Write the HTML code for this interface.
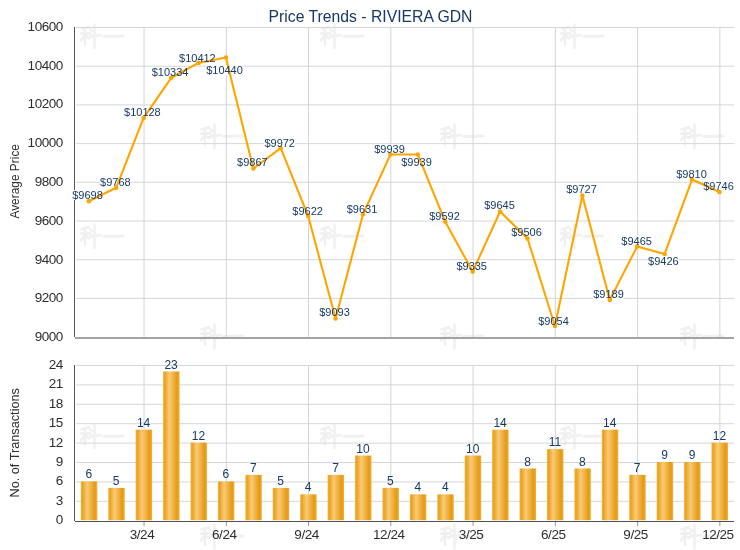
<!DOCTYPE html><html><head><meta charset="utf-8"><style>html,body{margin:0;padding:0;background:#fff;overflow:hidden;}svg{display:block;will-change:transform;}text{font-family:"Liberation Sans",sans-serif;}</style></head><body>
<svg width="740" height="550" viewBox="0 0 740 550">
<defs><linearGradient id="bg" x1="0" y1="0" x2="1" y2="0"><stop offset="0" stop-color="#F4BA48"/><stop offset="0.1" stop-color="#EAA11C"/><stop offset="0.38" stop-color="#FACA78"/><stop offset="0.86" stop-color="#E59A0E"/><stop offset="1" stop-color="#F2B040"/></linearGradient></defs>
<g transform="translate(0,23.5)" fill="none" stroke="#F0F0F0" stroke-width="2.4" stroke-linecap="round"><path d="M81.5 6 L89 3.5 M80.5 10 L89.5 9.5 M85 5 L85 21 M85 11 L81 17 M85 11 L89 15 M90 5.5 L92 7.5 M89.5 9.5 L91.5 11.5 M88.5 13.5 L101 11.5 M94.5 1 L94.5 25"/><path d="M104 13 L123 12.5" stroke-width="3.2"/></g>
<g transform="translate(240,23.5)" fill="none" stroke="#F0F0F0" stroke-width="2.4" stroke-linecap="round"><path d="M81.5 6 L89 3.5 M80.5 10 L89.5 9.5 M85 5 L85 21 M85 11 L81 17 M85 11 L89 15 M90 5.5 L92 7.5 M89.5 9.5 L91.5 11.5 M88.5 13.5 L101 11.5 M94.5 1 L94.5 25"/><path d="M104 13 L123 12.5" stroke-width="3.2"/></g>
<g transform="translate(480,23.5)" fill="none" stroke="#F0F0F0" stroke-width="2.4" stroke-linecap="round"><path d="M81.5 6 L89 3.5 M80.5 10 L89.5 9.5 M85 5 L85 21 M85 11 L81 17 M85 11 L89 15 M90 5.5 L92 7.5 M89.5 9.5 L91.5 11.5 M88.5 13.5 L101 11.5 M94.5 1 L94.5 25"/><path d="M104 13 L123 12.5" stroke-width="3.2"/></g>
<g transform="translate(120,123.5)" fill="none" stroke="#F0F0F0" stroke-width="2.4" stroke-linecap="round"><path d="M81.5 6 L89 3.5 M80.5 10 L89.5 9.5 M85 5 L85 21 M85 11 L81 17 M85 11 L89 15 M90 5.5 L92 7.5 M89.5 9.5 L91.5 11.5 M88.5 13.5 L101 11.5 M94.5 1 L94.5 25"/><path d="M104 13 L123 12.5" stroke-width="3.2"/></g>
<g transform="translate(360,123.5)" fill="none" stroke="#F0F0F0" stroke-width="2.4" stroke-linecap="round"><path d="M81.5 6 L89 3.5 M80.5 10 L89.5 9.5 M85 5 L85 21 M85 11 L81 17 M85 11 L89 15 M90 5.5 L92 7.5 M89.5 9.5 L91.5 11.5 M88.5 13.5 L101 11.5 M94.5 1 L94.5 25"/><path d="M104 13 L123 12.5" stroke-width="3.2"/></g>
<g transform="translate(600,123.5)" fill="none" stroke="#F0F0F0" stroke-width="2.4" stroke-linecap="round"><path d="M81.5 6 L89 3.5 M80.5 10 L89.5 9.5 M85 5 L85 21 M85 11 L81 17 M85 11 L89 15 M90 5.5 L92 7.5 M89.5 9.5 L91.5 11.5 M88.5 13.5 L101 11.5 M94.5 1 L94.5 25"/><path d="M104 13 L123 12.5" stroke-width="3.2"/></g>
<g transform="translate(0,223.5)" fill="none" stroke="#F0F0F0" stroke-width="2.4" stroke-linecap="round"><path d="M81.5 6 L89 3.5 M80.5 10 L89.5 9.5 M85 5 L85 21 M85 11 L81 17 M85 11 L89 15 M90 5.5 L92 7.5 M89.5 9.5 L91.5 11.5 M88.5 13.5 L101 11.5 M94.5 1 L94.5 25"/><path d="M104 13 L123 12.5" stroke-width="3.2"/></g>
<g transform="translate(240,223.5)" fill="none" stroke="#F0F0F0" stroke-width="2.4" stroke-linecap="round"><path d="M81.5 6 L89 3.5 M80.5 10 L89.5 9.5 M85 5 L85 21 M85 11 L81 17 M85 11 L89 15 M90 5.5 L92 7.5 M89.5 9.5 L91.5 11.5 M88.5 13.5 L101 11.5 M94.5 1 L94.5 25"/><path d="M104 13 L123 12.5" stroke-width="3.2"/></g>
<g transform="translate(480,223.5)" fill="none" stroke="#F0F0F0" stroke-width="2.4" stroke-linecap="round"><path d="M81.5 6 L89 3.5 M80.5 10 L89.5 9.5 M85 5 L85 21 M85 11 L81 17 M85 11 L89 15 M90 5.5 L92 7.5 M89.5 9.5 L91.5 11.5 M88.5 13.5 L101 11.5 M94.5 1 L94.5 25"/><path d="M104 13 L123 12.5" stroke-width="3.2"/></g>
<g transform="translate(120,323.5)" fill="none" stroke="#F0F0F0" stroke-width="2.4" stroke-linecap="round"><path d="M81.5 6 L89 3.5 M80.5 10 L89.5 9.5 M85 5 L85 21 M85 11 L81 17 M85 11 L89 15 M90 5.5 L92 7.5 M89.5 9.5 L91.5 11.5 M88.5 13.5 L101 11.5 M94.5 1 L94.5 25"/><path d="M104 13 L123 12.5" stroke-width="3.2"/></g>
<g transform="translate(360,323.5)" fill="none" stroke="#F0F0F0" stroke-width="2.4" stroke-linecap="round"><path d="M81.5 6 L89 3.5 M80.5 10 L89.5 9.5 M85 5 L85 21 M85 11 L81 17 M85 11 L89 15 M90 5.5 L92 7.5 M89.5 9.5 L91.5 11.5 M88.5 13.5 L101 11.5 M94.5 1 L94.5 25"/><path d="M104 13 L123 12.5" stroke-width="3.2"/></g>
<g transform="translate(600,323.5)" fill="none" stroke="#F0F0F0" stroke-width="2.4" stroke-linecap="round"><path d="M81.5 6 L89 3.5 M80.5 10 L89.5 9.5 M85 5 L85 21 M85 11 L81 17 M85 11 L89 15 M90 5.5 L92 7.5 M89.5 9.5 L91.5 11.5 M88.5 13.5 L101 11.5 M94.5 1 L94.5 25"/><path d="M104 13 L123 12.5" stroke-width="3.2"/></g>
<g transform="translate(0,423.5)" fill="none" stroke="#F0F0F0" stroke-width="2.4" stroke-linecap="round"><path d="M81.5 6 L89 3.5 M80.5 10 L89.5 9.5 M85 5 L85 21 M85 11 L81 17 M85 11 L89 15 M90 5.5 L92 7.5 M89.5 9.5 L91.5 11.5 M88.5 13.5 L101 11.5 M94.5 1 L94.5 25"/><path d="M104 13 L123 12.5" stroke-width="3.2"/></g>
<g transform="translate(240,423.5)" fill="none" stroke="#F0F0F0" stroke-width="2.4" stroke-linecap="round"><path d="M81.5 6 L89 3.5 M80.5 10 L89.5 9.5 M85 5 L85 21 M85 11 L81 17 M85 11 L89 15 M90 5.5 L92 7.5 M89.5 9.5 L91.5 11.5 M88.5 13.5 L101 11.5 M94.5 1 L94.5 25"/><path d="M104 13 L123 12.5" stroke-width="3.2"/></g>
<g transform="translate(480,423.5)" fill="none" stroke="#F0F0F0" stroke-width="2.4" stroke-linecap="round"><path d="M81.5 6 L89 3.5 M80.5 10 L89.5 9.5 M85 5 L85 21 M85 11 L81 17 M85 11 L89 15 M90 5.5 L92 7.5 M89.5 9.5 L91.5 11.5 M88.5 13.5 L101 11.5 M94.5 1 L94.5 25"/><path d="M104 13 L123 12.5" stroke-width="3.2"/></g>
<g transform="translate(120,523.5)" fill="none" stroke="#F0F0F0" stroke-width="2.4" stroke-linecap="round"><path d="M81.5 6 L89 3.5 M80.5 10 L89.5 9.5 M85 5 L85 21 M85 11 L81 17 M85 11 L89 15 M90 5.5 L92 7.5 M89.5 9.5 L91.5 11.5 M88.5 13.5 L101 11.5 M94.5 1 L94.5 25"/><path d="M104 13 L123 12.5" stroke-width="3.2"/></g>
<g transform="translate(360,523.5)" fill="none" stroke="#F0F0F0" stroke-width="2.4" stroke-linecap="round"><path d="M81.5 6 L89 3.5 M80.5 10 L89.5 9.5 M85 5 L85 21 M85 11 L81 17 M85 11 L89 15 M90 5.5 L92 7.5 M89.5 9.5 L91.5 11.5 M88.5 13.5 L101 11.5 M94.5 1 L94.5 25"/><path d="M104 13 L123 12.5" stroke-width="3.2"/></g>
<g transform="translate(600,523.5)" fill="none" stroke="#F0F0F0" stroke-width="2.4" stroke-linecap="round"><path d="M81.5 6 L89 3.5 M80.5 10 L89.5 9.5 M85 5 L85 21 M85 11 L81 17 M85 11 L89 15 M90 5.5 L92 7.5 M89.5 9.5 L91.5 11.5 M88.5 13.5 L101 11.5 M94.5 1 L94.5 25"/><path d="M104 13 L123 12.5" stroke-width="3.2"/></g>
<g fill="#D6D6D6">
<rect x="76" y="27.00" width="658" height="1"/>
<rect x="76" y="65.70" width="658" height="1"/>
<rect x="76" y="104.40" width="658" height="1"/>
<rect x="76" y="143.10" width="658" height="1"/>
<rect x="76" y="181.80" width="658" height="1"/>
<rect x="76" y="220.50" width="658" height="1"/>
<rect x="76" y="259.20" width="658" height="1"/>
<rect x="76" y="297.90" width="658" height="1"/>
<rect x="76" y="365.00" width="658" height="1"/>
<rect x="76" y="384.40" width="658" height="1"/>
<rect x="76" y="403.80" width="658" height="1"/>
<rect x="76" y="423.20" width="658" height="1"/>
<rect x="76" y="442.60" width="658" height="1"/>
<rect x="76" y="462.00" width="658" height="1"/>
<rect x="76" y="481.40" width="658" height="1"/>
<rect x="76" y="500.80" width="658" height="1"/>
</g>
<g fill="#D4D4D4">
<rect x="143.54" y="28" width="1" height="309"/>
<rect x="143.54" y="366" width="1" height="155"/>
<rect x="225.80" y="28" width="1" height="309"/>
<rect x="225.80" y="366" width="1" height="155"/>
<rect x="308.06" y="28" width="1" height="309"/>
<rect x="308.06" y="366" width="1" height="155"/>
<rect x="390.32" y="28" width="1" height="309"/>
<rect x="390.32" y="366" width="1" height="155"/>
<rect x="472.58" y="28" width="1" height="309"/>
<rect x="472.58" y="366" width="1" height="155"/>
<rect x="554.84" y="28" width="1" height="309"/>
<rect x="554.84" y="366" width="1" height="155"/>
<rect x="637.10" y="28" width="1" height="309"/>
<rect x="637.10" y="366" width="1" height="155"/>
<rect x="719.36" y="28" width="1" height="309"/>
<rect x="719.36" y="366" width="1" height="155"/>
</g>
<g shape-rendering="crispEdges">
<line x1="74.5" y1="27" x2="74.5" y2="337" stroke="#555555" stroke-width="1"/>
<rect x="75" y="337" width="659" height="2" fill="#A3A3A3"/>
<line x1="74.5" y1="365" x2="74.5" y2="521" stroke="#555555" stroke-width="1"/>
<rect x="143.54" y="522" width="1" height="4" fill="#999999" shape-rendering="auto"/>
<rect x="225.80" y="522" width="1" height="4" fill="#999999" shape-rendering="auto"/>
<rect x="308.06" y="522" width="1" height="4" fill="#999999" shape-rendering="auto"/>
<rect x="390.32" y="522" width="1" height="4" fill="#999999" shape-rendering="auto"/>
<rect x="472.58" y="522" width="1" height="4" fill="#999999" shape-rendering="auto"/>
<rect x="554.84" y="522" width="1" height="4" fill="#999999" shape-rendering="auto"/>
<rect x="637.10" y="522" width="1" height="4" fill="#999999" shape-rendering="auto"/>
<rect x="719.36" y="522" width="1" height="4" fill="#999999" shape-rendering="auto"/>
</g>
<g font-size="13.5" fill="#2E2E2E" text-anchor="end" letter-spacing="-0.45">
<text x="62.9" y="31.3">10600</text>
<text x="62.9" y="70.3">10400</text>
<text x="62.9" y="108.3">10200</text>
<text x="62.9" y="147.3">10000</text>
<text x="62.9" y="186.3">9800</text>
<text x="62.9" y="225.3">9600</text>
<text x="62.9" y="264.3">9400</text>
<text x="62.9" y="302.3">9200</text>
<text x="62.9" y="341.3">9000</text>
<text x="62.9" y="369.3">24</text>
<text x="62.9" y="388.3">21</text>
<text x="62.9" y="408.3">18</text>
<text x="62.9" y="427.3">15</text>
<text x="62.9" y="447.3">12</text>
<text x="62.9" y="466.3">9</text>
<text x="62.9" y="485.3">6</text>
<text x="62.9" y="505.3">3</text>
<text x="62.9" y="524.3">0</text>
</g>
<text transform="translate(19,181.3) rotate(-90)" font-size="12.2" fill="#2E2E2E" text-anchor="middle" textLength="74.5" lengthAdjust="spacingAndGlyphs">Average Price</text>
<text transform="translate(19,442.8) rotate(-90)" font-size="12.2" fill="#2E2E2E" text-anchor="middle" textLength="109.5" lengthAdjust="spacingAndGlyphs">No. of Transactions</text>
<rect x="80.80" y="481.40" width="16.5" height="38.80" fill="url(#bg)"/>
<rect x="108.22" y="487.87" width="16.5" height="32.33" fill="url(#bg)"/>
<rect x="135.64" y="429.67" width="16.5" height="90.53" fill="url(#bg)"/>
<rect x="163.06" y="371.47" width="16.5" height="148.73" fill="url(#bg)"/>
<rect x="190.48" y="442.60" width="16.5" height="77.60" fill="url(#bg)"/>
<rect x="217.90" y="481.40" width="16.5" height="38.80" fill="url(#bg)"/>
<rect x="245.32" y="474.93" width="16.5" height="45.27" fill="url(#bg)"/>
<rect x="272.74" y="487.87" width="16.5" height="32.33" fill="url(#bg)"/>
<rect x="300.16" y="494.33" width="16.5" height="25.87" fill="url(#bg)"/>
<rect x="327.58" y="474.93" width="16.5" height="45.27" fill="url(#bg)"/>
<rect x="355.00" y="455.53" width="16.5" height="64.67" fill="url(#bg)"/>
<rect x="382.42" y="487.87" width="16.5" height="32.33" fill="url(#bg)"/>
<rect x="409.84" y="494.33" width="16.5" height="25.87" fill="url(#bg)"/>
<rect x="437.26" y="494.33" width="16.5" height="25.87" fill="url(#bg)"/>
<rect x="464.68" y="455.53" width="16.5" height="64.67" fill="url(#bg)"/>
<rect x="492.10" y="429.67" width="16.5" height="90.53" fill="url(#bg)"/>
<rect x="519.52" y="468.47" width="16.5" height="51.73" fill="url(#bg)"/>
<rect x="546.94" y="449.07" width="16.5" height="71.13" fill="url(#bg)"/>
<rect x="574.36" y="468.47" width="16.5" height="51.73" fill="url(#bg)"/>
<rect x="601.78" y="429.67" width="16.5" height="90.53" fill="url(#bg)"/>
<rect x="629.20" y="474.93" width="16.5" height="45.27" fill="url(#bg)"/>
<rect x="656.62" y="462.00" width="16.5" height="58.20" fill="url(#bg)"/>
<rect x="684.04" y="462.00" width="16.5" height="58.20" fill="url(#bg)"/>
<rect x="711.46" y="442.60" width="16.5" height="77.60" fill="url(#bg)"/>
<line x1="75" y1="521.5" x2="734" y2="521.5" stroke="#505050" stroke-width="1" shape-rendering="crispEdges"/>
<g font-size="12" fill="#163A66" text-anchor="middle">
<text x="88.8" y="478.4">6</text>
<text x="116.2" y="484.9">5</text>
<text x="143.6" y="426.7">14</text>
<text x="171.1" y="368.5">23</text>
<text x="198.5" y="439.6">12</text>
<text x="225.9" y="478.4">6</text>
<text x="253.3" y="471.9">7</text>
<text x="280.7" y="484.9">5</text>
<text x="308.2" y="491.3">4</text>
<text x="335.6" y="471.9">7</text>
<text x="363.0" y="452.5">10</text>
<text x="390.4" y="484.9">5</text>
<text x="417.8" y="491.3">4</text>
<text x="445.3" y="491.3">4</text>
<text x="472.7" y="452.5">10</text>
<text x="500.1" y="426.7">14</text>
<text x="527.5" y="465.5">8</text>
<text x="554.9" y="446.1">11</text>
<text x="582.4" y="465.5">8</text>
<text x="609.8" y="426.7">14</text>
<text x="637.2" y="471.9">7</text>
<text x="664.6" y="459.0">9</text>
<text x="692.0" y="459.0">9</text>
<text x="719.5" y="439.6">12</text>
</g>
<g font-size="13.5" fill="#2E2E2E" text-anchor="middle" letter-spacing="-0.45">
<text x="142.0" y="539.0">3/24</text>
<text x="224.3" y="539.0">6/24</text>
<text x="306.6" y="539.0">9/24</text>
<text x="388.8" y="539.0">12/24</text>
<text x="471.1" y="539.0">3/25</text>
<text x="553.3" y="539.0">6/25</text>
<text x="635.6" y="539.0">9/25</text>
<text x="717.9" y="539.0">12/25</text>
</g>
<g fill="#FFFFFF">
<rect x="72.2" y="190.0" width="30.6" height="10"/>
<rect x="100.1" y="177.3" width="30.6" height="10"/>
<rect x="124.0" y="107.1" width="36.7" height="10"/>
<rect x="151.7" y="67.4" width="36.7" height="10"/>
<rect x="179.0" y="52.6" width="36.7" height="10"/>
<rect x="206.1" y="65.4" width="36.7" height="10"/>
<rect x="237.1" y="157.4" width="30.6" height="10"/>
<rect x="264.4" y="137.5" width="30.6" height="10"/>
<rect x="292.3" y="205.6" width="30.6" height="10"/>
<rect x="319.2" y="306.8" width="30.6" height="10"/>
<rect x="346.7" y="203.6" width="30.6" height="10"/>
<rect x="374.2" y="144.4" width="30.6" height="10"/>
<rect x="401.2" y="157.2" width="30.6" height="10"/>
<rect x="429.2" y="211.2" width="30.6" height="10"/>
<rect x="456.4" y="260.5" width="30.6" height="10"/>
<rect x="484.2" y="200.4" width="30.6" height="10"/>
<rect x="511.2" y="227.4" width="30.6" height="10"/>
<rect x="538.2" y="315.5" width="30.6" height="10"/>
<rect x="566.2" y="184.1" width="30.6" height="10"/>
<rect x="593.2" y="288.9" width="30.6" height="10"/>
<rect x="621.3" y="235.6" width="30.6" height="10"/>
<rect x="648.1" y="256.0" width="30.6" height="10"/>
<rect x="676.2" y="169.3" width="30.6" height="10"/>
<rect x="703.2" y="181.2" width="30.6" height="10"/>
</g>
<polyline points="88.80,201.26 116.22,187.70 143.64,117.95 171.06,78.04 198.48,62.92 225.90,57.50 253.32,168.52 280.74,148.18 308.16,215.99 335.58,318.48 363.00,214.24 390.42,154.57 417.84,154.57 445.26,221.80 472.68,271.59 500.10,211.53 527.52,238.46 554.94,326.04 582.36,195.64 609.78,299.88 637.20,246.41 664.62,253.96 692.04,179.56 719.46,191.96" fill="none" stroke="#FFA500" stroke-width="2.1" stroke-linejoin="round"/>
<circle cx="88.80" cy="201.26" r="2.3" fill="#FFA500"/>
<circle cx="116.22" cy="187.70" r="2.3" fill="#FFA500"/>
<circle cx="143.64" cy="117.95" r="2.3" fill="#FFA500"/>
<circle cx="171.06" cy="78.04" r="2.3" fill="#FFA500"/>
<circle cx="198.48" cy="62.92" r="2.3" fill="#FFA500"/>
<circle cx="225.90" cy="57.50" r="2.3" fill="#FFA500"/>
<circle cx="253.32" cy="168.52" r="2.3" fill="#FFA500"/>
<circle cx="280.74" cy="148.18" r="2.3" fill="#FFA500"/>
<circle cx="308.16" cy="215.99" r="2.3" fill="#FFA500"/>
<circle cx="335.58" cy="318.48" r="2.3" fill="#FFA500"/>
<circle cx="363.00" cy="214.24" r="2.3" fill="#FFA500"/>
<circle cx="390.42" cy="154.57" r="2.3" fill="#FFA500"/>
<circle cx="417.84" cy="154.57" r="2.3" fill="#FFA500"/>
<circle cx="445.26" cy="221.80" r="2.3" fill="#FFA500"/>
<circle cx="472.68" cy="271.59" r="2.3" fill="#FFA500"/>
<circle cx="500.10" cy="211.53" r="2.3" fill="#FFA500"/>
<circle cx="527.52" cy="238.46" r="2.3" fill="#FFA500"/>
<circle cx="554.94" cy="326.04" r="2.3" fill="#FFA500"/>
<circle cx="582.36" cy="195.64" r="2.3" fill="#FFA500"/>
<circle cx="609.78" cy="299.88" r="2.3" fill="#FFA500"/>
<circle cx="637.20" cy="246.41" r="2.3" fill="#FFA500"/>
<circle cx="664.62" cy="253.96" r="2.3" fill="#FFA500"/>
<circle cx="692.04" cy="179.56" r="2.3" fill="#FFA500"/>
<circle cx="719.46" cy="191.96" r="2.3" fill="#FFA500"/>
<g font-size="11" fill="#163A66" text-anchor="middle">
<text x="87.5" y="199.0">$9698</text>
<text x="115.4" y="186.3">$9768</text>
<text x="142.4" y="116.1">$10128</text>
<text x="170.1" y="76.4">$10334</text>
<text x="197.4" y="61.6">$10412</text>
<text x="224.5" y="74.4">$10440</text>
<text x="252.4" y="166.4">$9867</text>
<text x="279.7" y="146.5">$9972</text>
<text x="307.6" y="214.6">$9622</text>
<text x="334.5" y="315.8">$9093</text>
<text x="362.0" y="212.6">$9631</text>
<text x="389.5" y="153.4">$9939</text>
<text x="416.5" y="166.2">$9939</text>
<text x="444.5" y="220.2">$9592</text>
<text x="471.7" y="269.5">$9335</text>
<text x="499.5" y="209.4">$9645</text>
<text x="526.5" y="236.4">$9506</text>
<text x="553.5" y="324.5">$9054</text>
<text x="581.5" y="193.1">$9727</text>
<text x="608.5" y="297.9">$9189</text>
<text x="636.6" y="244.6">$9465</text>
<text x="663.4" y="265.0">$9426</text>
<text x="691.5" y="178.3">$9810</text>
<text x="718.5" y="190.2">$9746</text>
</g>
<text x="370.5" y="22" font-size="16.5" fill="#163A66" text-anchor="middle" textLength="204" lengthAdjust="spacingAndGlyphs">Price Trends - RIVIERA GDN</text>
</svg></body></html>
